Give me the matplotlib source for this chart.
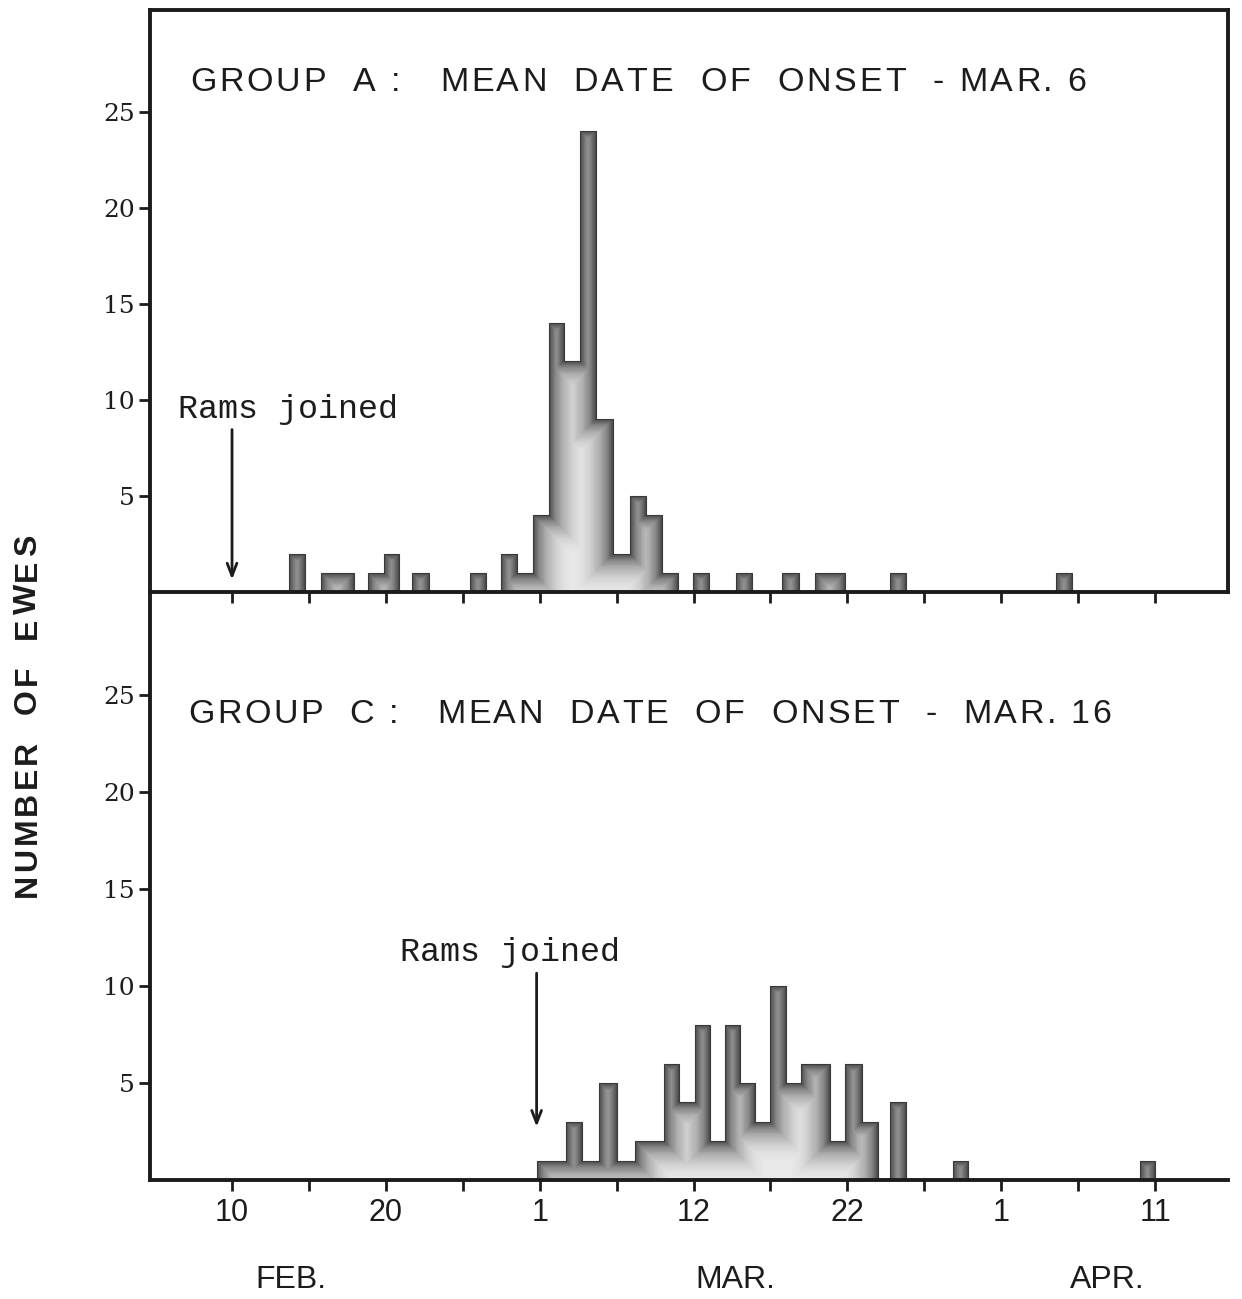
import math
import matplotlib
matplotlib.use("Agg")
import matplotlib.pyplot as plt
from matplotlib.path import Path
from matplotlib.patches import PathPatch
from matplotlib.lines import Line2D
from matplotlib.font_manager import FontProperties, findfont
from matplotlib.ft2font import FT2Font
import matplotlib.transforms as mtransforms

# x axis in "tick units": 10 units between labelled ticks (Feb 10 = 0)
tick_pos = [0, 10, 20, 30, 40, 50, 60]
tick_lab = ["10", "20", "1", "12", "22", "1", "11"]
month_pos = [3.8, 32.7, 56.9]
month_lab = ["FEB.", "MAR.", "APR."]

# Group A (bar centres, number of ewes)
a_day = [4.2, 6.3, 7.4, 9.35, 10.35, 12.25, 16.0, 18.0, 19.05, 20.1, 21.1, 22.1,
         23.15, 24.2, 25.3, 26.4, 27.45, 28.45, 30.5, 33.3, 36.3, 38.4, 39.35,
         43.3, 54.1]
a_ewes = [2, 1, 1, 1, 2, 1, 1, 2, 1, 4, 14, 12, 24, 9, 2, 5, 4, 1, 1, 1, 1, 1, 1,
          1, 1]

# Group C
c_day = [20.3, 21.2, 22.25, 23.3, 24.45, 25.65, 26.7, 27.6, 28.6, 29.55, 30.6,
         31.6, 32.5, 33.5, 34.45, 35.5, 36.55, 37.45, 38.4, 39.3, 40.4, 41.5,
         43.3, 47.35, 59.5]
c_ewes = [1, 1, 3, 1, 5, 1, 2, 2, 6, 4, 8, 2, 8, 5, 3, 10, 5, 6, 6, 2, 6, 3, 4,
          1, 1]

INK = "#1c1c1c"
SANS = "Liberation Sans"


def spaced_text(fig, x, y, s, size, track, transform, rotation=0,
                family=SANS, weight="normal"):
    # letter-spaced text: place glyphs one by one, advance + track (points)
    fp = FontProperties(family=family, size=size, weight=weight)
    font = FT2Font(findfont(fp))
    font.set_size(size, 72)
    off = 0.0
    for ch in s:
        if rotation == 90:
            tr = mtransforms.offset_copy(transform, fig, x=0, y=off, units="points")
        else:
            tr = mtransforms.offset_copy(transform, fig, x=off, y=0, units="points")
        if ch != " ":
            fig.text(x, y, ch, transform=tr, fontproperties=fp, color=INK,
                     ha="left", va="center", rotation=rotation,
                     rotation_mode="anchor")
        off += font.load_char(ord(ch)).linearHoriAdvance / 65536.0 + track
    return off


def shade(d):
    # darkness of the pencil shading at d pixels inside the outline
    return 0.7 * math.exp(-d / 13.0)


def shaded_hist(ax, days, counts, w=1.0):
    # split into runs of touching bars, draw each run as one step outline
    runs, cur = [], [0]
    for i in range(1, len(days)):
        if days[i] - days[i - 1] > 1.3 * w:
            runs.append(cur)
            cur = []
        cur.append(i)
    runs.append(cur)
    for run in runs:
        cs = [days[i] for i in run]
        hs = [counts[i] for i in run]
        edges = [cs[0] - w / 2] + [(cs[k] + cs[k + 1]) / 2 for k in range(len(cs) - 1)] + [cs[-1] + w / 2]
        verts = [(edges[0], 0)]
        for k, h in enumerate(hs):
            verts += [(edges[k], h), (edges[k + 1], h)]
        verts.append((edges[-1], 0))
        poly = Path(verts + [verts[0]], closed=True)
        patch = PathPatch(poly, facecolor="#e9e9e9", edgecolor="none", zorder=2)
        ax.add_patch(patch)
        xs = [v[0] for v in verts]
        ys = [v[1] for v in verts]
        # stacked strokes clipped to the shape -> dark edge fading inwards
        for hw in range(1, 40):
            t_in = 1 - shade(hw - 1)
            t_out = 1 - shade(hw)
            al = 1 - t_in / t_out
            ln = Line2D(xs, ys, color="#202020", lw=2 * hw / 1.389, alpha=al,
                        solid_joinstyle="miter", solid_capstyle="butt", zorder=3)
            ax.add_line(ln)
            ln.set_clip_path(patch)
        ax.plot(xs, ys, color="#3a3a3a", lw=0.8, zorder=4)


fig = plt.figure(figsize=(12.42, 12.99), dpi=100)
ax_c = fig.add_axes([0.1208, 0.0916, 0.868, 0.4527])
ax_a = fig.add_axes([0.1208, 0.5443, 0.868, 0.448])

for ax in (ax_a, ax_c):
    ax.patch.set_visible(False)
    ax.set_xlim(-5.33, 64.75)
    ax.set_ylim(0, 30.3)
    ax.set_xticks(range(0, 61, 5))
    ax.set_yticks([5, 10, 15, 20, 25])
    ax.set_yticklabels(["5", "10", "15", "20", "25"], family="DejaVu Serif",
                       fontsize=18, color=INK)
    ax.tick_params(axis="both", direction="out", length=8, width=2, color=INK)
    ax.tick_params(axis="y", pad=3)
    for s in ax.spines.values():
        s.set_linewidth(2.8)
        s.set_color(INK)
        s.set_zorder(5)

ax_a.tick_params(axis="x", labelbottom=False)
ax_c.spines["top"].set_visible(False)
ax_c.spines["right"].set_visible(False)
ax_c.set_xticks(range(0, 61, 5))
ax_c.set_xticklabels([tick_lab[tick_pos.index(t)] if t in tick_pos else "" for t in range(0, 61, 5)],
                     family=SANS, fontsize=22, color=INK)
ax_c.tick_params(axis="x", pad=5)

shaded_hist(ax_a, a_day, a_ewes, w=1.05)
shaded_hist(ax_c, c_day, c_ewes, w=1.0)

spaced_text(fig, -2.73, 26.5, "GROUP  A :   MEAN  DATE  OF  ONSET  - MAR. 6",
            24.5, 2.0, ax_a.transData)
spaced_text(fig, -2.86, 24.0, "GROUP  C :   MEAN  DATE  OF  ONSET  -  MAR. 16",
            24.5, 1.85, ax_c.transData)

# rams joined
mono = ["Liberation Mono", "DejaVu Sans Mono"]
ax_a.text(-3.5, 9.5, "Rams joined", family=mono, fontsize=24, color=INK,
          va="center", ha="left")
ax_a.annotate("", xy=(0, 0.5), xytext=(0, 8.6),
              arrowprops=dict(arrowstyle="->,head_length=0.9,head_width=0.35",
                              color=INK, lw=2))
ax_c.text(10.9, 11.7, "Rams joined", family=mono, fontsize=24, color=INK,
          va="center", ha="left")
ax_c.annotate("", xy=(19.8, 2.6), xytext=(19.8, 10.8),
              arrowprops=dict(arrowstyle="->,head_length=0.9,head_width=0.35",
                              color=INK, lw=2))

trans = mtransforms.blended_transform_factory(ax_c.transData, ax_c.transAxes)
for p, lab in zip(month_pos, month_lab):
    ax_c.text(p, -0.17, lab, transform=trans, family=SANS, fontsize=23,
              color=INK, ha="center", va="center")

# y label, drawn upwards letter by letter from its lower end
spaced_text(fig, 0.0225, 1 - 897 / 1299, "NUMBER  OF  EWES", 23, 2.3,
            fig.transFigure, rotation=90, weight="bold")

fig.savefig("out.png", dpi=100, facecolor="white")
